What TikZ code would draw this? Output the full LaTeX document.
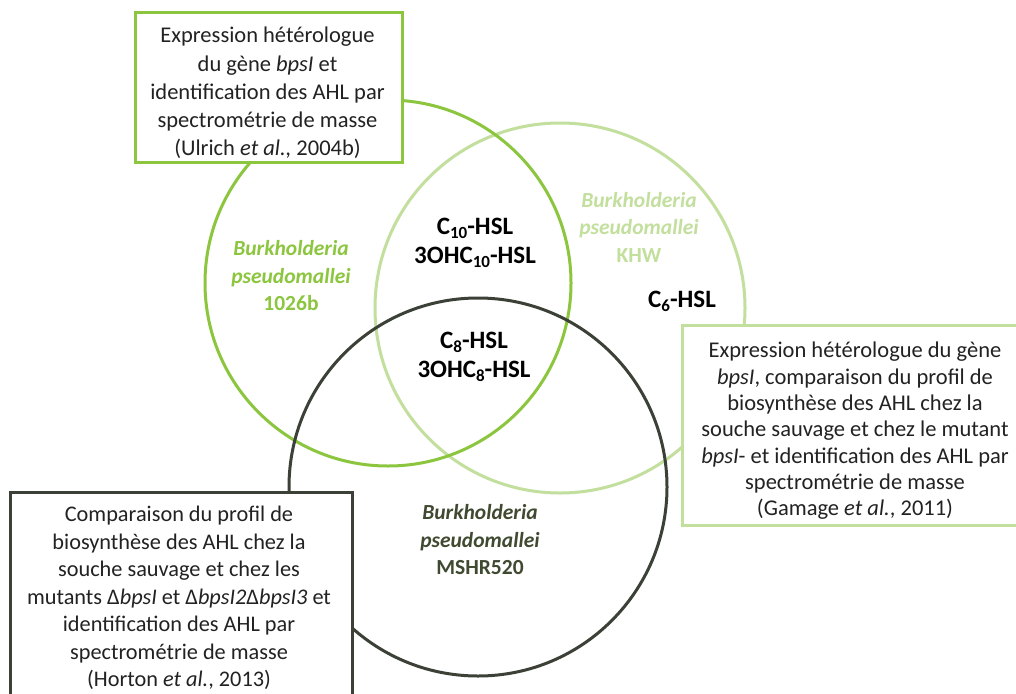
\documentclass[tikz,border=0pt]{standalone}
\usepackage{fontspec}
\setmainfont{Carlito}
\definecolor{strainA}{HTML}{8CC63F}
\definecolor{strainB}{HTML}{C3DF9E}
\definecolor{strainC}{HTML}{3B4136}
\definecolor{strainCtext}{HTML}{3F4A30}
\definecolor{bodytext}{HTML}{222222}
% subscript for the acyl chain length
\newcommand{\chain}[1]{\raisebox{-0.35ex}{\fontsize{17}{17}\selectfont #1}}
\tikzset{
  ring/.style={line width=3pt},
  framebox/.style={draw, line width=3pt, fill=white, inner sep=0pt},
  reftext/.style={align=center, inner sep=0pt, text=bodytext},
  strain/.style={align=center, font=\fontsize{21.5}{27.5}\selectfont\bfseries},
  ahl/.style={align=center, font=\fontsize{25}{29}\selectfont\bfseries, text=black}
}
\begin{document}
\begin{tikzpicture}[x=1pt,y=-1pt]
\useasboundingbox (0,0) rectangle (1016,693);
\clip (0,0) rectangle (1016,693);
\fill[white] (0,0) rectangle (1016,693);

% the three strain circles
\draw[ring, strainB] (560,308) circle[radius=185pt];
\draw[ring, strainA] (388,283) circle[radius=183pt];
\draw[ring, strainC] (478,487) circle[radius=189pt];

% strain names
\node[strain, text=strainA] (nameA) at (291,276)
  {\itshape Burkholderia\\ \itshape pseudomallei\\ 1026b};
\node[strain, text=strainB] (nameB) at (639,227)
  {\itshape Burkholderia\\ \itshape pseudomallei\\ KHW};
\node[strain, text=strainCtext] (nameC) at (480,540)
  {\itshape Burkholderia\\ \itshape pseudomallei\\ MSHR520};

% AHL produced
\node[ahl] (ahlAB) at (475,243) {C\chain{10}-HSL\\ 3OHC\chain{10}-HSL};
\node[ahl] (ahlABC) at (474,357) {C\chain{8}-HSL\\ 3OHC\chain{8}-HSL};
\node[ahl] (ahlB) at (682,301) {C\chain{6}-HSL};

% references for each strain
\node[framebox, draw=strainA, minimum width=267pt, minimum height=149pt] (refA) at (268.5,87.5) {};
\node[reftext, font=\fontsize{22.5}{28.2}\selectfont] (refAtext) at (267.5,93)
  {Expression hétérologue\\ du gène \textit{bpsI} et\\ identification des AHL par\\
   spectrométrie de masse\\ (Ulrich \textit{et al.,} 2004b)};

\node[framebox, draw=strainB, minimum width=356pt, minimum height=200pt] (refB) at (860,425) {};
\node[reftext, font=\fontsize{22.5}{26.3}\selectfont] (refBtext) at (855,431)
  {Expression hétérologue du gène\\ \textit{bpsI}, comparaison du profil de\\
   biosynthèse des AHL chez la\\ souche sauvage et chez le mutant\\
   \textit{bpsI}- et identification des AHL par\\ spectrométrie de masse\\
   (Gamage \textit{et al.}, 2011)};

\node[framebox, draw=strainC, minimum width=342pt, minimum height=216pt] (refC) at (181,600) {};
\node[reftext, font=\fontsize{22.3}{27.5}\selectfont] (refCtext) at (179,598)
  {Comparaison du profil de\\ biosynthèse des AHL chez la\\ souche sauvage et chez les\\
   mutants Δ\textit{bpsI} et Δ\textit{bpsI2}Δ\textit{bpsI3} et\\
   identification des AHL par\\ spectrométrie de masse\\ (Horton \textit{et al.}, 2013)};
\end{tikzpicture}
\end{document}
